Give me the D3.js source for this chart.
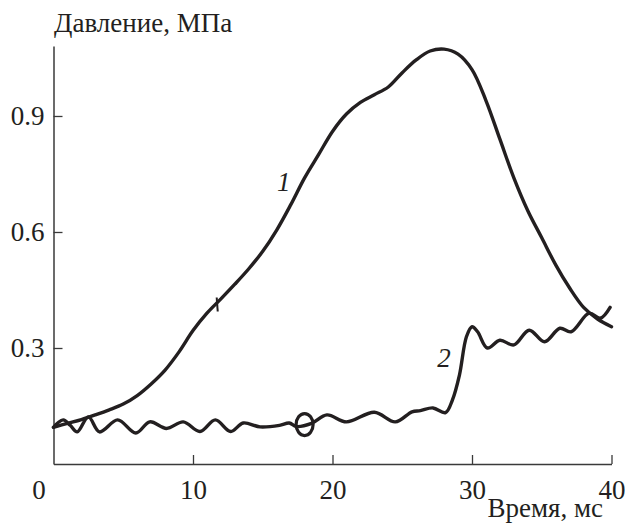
<!DOCTYPE html>
<html>
<head>
<meta charset="utf-8">
<script src="https://cdn.jsdelivr.net/npm/d3@7"></script>
<style>
  #chart text { font-family: "Liberation Serif", "Times New Roman", Tinos, serif !important; }
</style>
</head>
<body style="margin:0">
<svg id="chart" width="625" height="525">
  <style>text { font-family: "Liberation Serif", "Times New Roman", Tinos, serif; }</style>
</svg>
<script>
// ---- data ----
const xTicks = [0, 10, 20, 30, 40];
const yTicks = [0.3, 0.6, 0.9];
const yTitle = "Давление, МПа";
const xTitle = "Время, мс";

// curve 1 (time ms, pressure MPa)
const t1 = [0, 1, 2, 3, 4, 5, 6, 7, 8, 9, 10, 11, 12, 13, 14, 15, 16, 17, 18, 19, 20, 21, 22, 23, 24, 25, 26, 27, 28, 29, 30, 31, 32, 33, 34, 35, 36, 37, 38, 39, 40];
const p1 = [0.095, 0.105, 0.115, 0.127, 0.14, 0.155, 0.177, 0.207, 0.243, 0.29, 0.345, 0.39, 0.427, 0.465, 0.505, 0.55, 0.605, 0.67, 0.74, 0.80, 0.86, 0.905, 0.935, 0.955, 0.975, 1.012, 1.045, 1.068, 1.073, 1.06, 1.02, 0.94, 0.84, 0.74, 0.655, 0.585, 0.515, 0.455, 0.405, 0.375, 0.355];

// curve 2
const t2 = [0, 0.3, 0.7, 1.2, 1.7, 2.5, 3.3, 4.6, 5.9, 6.9, 8.1, 9.3, 10.5, 11.6, 12.7, 13.6, 14.8, 16.2, 16.9, 17.4, 18.5, 19.6, 21.0, 23.0, 24.5, 25.7, 26.3, 27.2, 28.1, 28.6, 29.1, 29.6, 30.0, 30.4, 31.1, 32.0, 33.0, 34.1, 35.2, 36.3, 37.1, 38.4, 39.2, 39.9];
const p2 = [0.095, 0.106, 0.114, 0.10, 0.083, 0.122, 0.083, 0.114, 0.080, 0.109, 0.092, 0.109, 0.084, 0.114, 0.084, 0.106, 0.096, 0.100, 0.106, 0.097, 0.105, 0.127, 0.109, 0.134, 0.109, 0.135, 0.138, 0.145, 0.133, 0.166, 0.23, 0.329, 0.355, 0.342, 0.30, 0.32, 0.308, 0.346, 0.316, 0.351, 0.342, 0.39, 0.377, 0.405];

// curve labels and marks
const curveLabels = [{ text: "1", t: 16.5, p: 0.73 }, { text: "2", t: 28.0, p: 0.275 }];
const notchMark = { t: 11.7, p: 0.415 };  // small notch on curve 1
const ringMark = { t: 18.0, p: 0.102 };   // small ring on curve 2

// ---- layout ----
const FONT = "Liberation Serif, Times New Roman, Tinos, serif";
const FS = 27;
const svg = d3.select("#chart");
const x = d3.scaleLinear().domain([0, 40]).range([53.5, 611.5]);
const y = d3.scaleLinear().domain([0, 1.081]).range([464, 46]);
const ink = "#231f20";
const axisInk = "#3a3a3a";

// x axis
const xAxis = svg.append("g")
  .attr("transform", `translate(0,${y(0)})`)
  .call(d3.axisBottom(x).tickValues(xTicks).tickSizeInner(-9).tickSizeOuter(0).tickPadding(18).tickFormat(d3.format("d")));
xAxis.attr("font-family", FONT).attr("font-size", FS);
xAxis.select(".domain").attr("stroke", axisInk).attr("stroke-width", 1.5);
xAxis.selectAll(".tick line").attr("stroke", axisInk).attr("stroke-width", 1.3);
xAxis.selectAll(".tick text").attr("fill", ink).attr("dy", "0.62em").attr("font-family", FONT);
xAxis.selectAll(".tick").filter(d => d === 0).select("line").remove();
xAxis.selectAll(".tick").filter(d => d === 0).select("text").attr("dx", -15);

// y axis
const yAxis = svg.append("g")
  .attr("transform", `translate(${x(0)},0)`)
  .call(d3.axisLeft(y).tickValues(yTicks).tickSizeInner(-9).tickSizeOuter(0).tickPadding(9).tickFormat(d3.format(".1f")));
yAxis.attr("font-family", FONT).attr("font-size", FS);
yAxis.select(".domain").attr("stroke", axisInk).attr("stroke-width", 1.5);
yAxis.selectAll(".tick line").attr("stroke", axisInk).attr("stroke-width", 1.3);
yAxis.selectAll(".tick text").attr("fill", ink).attr("dy", "0.33em").attr("font-family", FONT);

// titles
svg.append("text").attr("x", 54).attr("y", 32).attr("font-size", FS)
  .attr("font-family", FONT).attr("fill", ink).text(yTitle);
svg.append("text").attr("x", 603).attr("y", 517).attr("text-anchor", "end").attr("font-size", FS)
  .attr("font-family", FONT).attr("fill", ink).text(xTitle);

// curves
const line = d3.line().x(d => x(d[0])).y(d => y(d[1])).curve(d3.curveCatmullRom.alpha(0.5));
const c1 = t1.map((t, i) => [t, p1[i]]);
const c2 = t2.map((t, i) => [t, p2[i]]);
[c1, c2].forEach(c => {
  svg.append("path").datum(c).attr("d", line)
    .attr("fill", "none").attr("stroke", ink).attr("stroke-width", 3.4)
    .attr("stroke-linejoin", "round").attr("stroke-linecap", "round");
});

// notch on curve 1
svg.append("line")
  .attr("x1", x(notchMark.t)).attr("y1", y(notchMark.p) - 6)
  .attr("x2", x(notchMark.t) + 1).attr("y2", y(notchMark.p) + 8)
  .attr("stroke", ink).attr("stroke-width", 2);

// ring on curve 2
svg.append("ellipse")
  .attr("cx", x(ringMark.t)).attr("cy", y(ringMark.p))
  .attr("rx", 8.5).attr("ry", 11)
  .attr("fill", "none").attr("stroke", ink).attr("stroke-width", 3.2);

// curve labels
svg.selectAll(".clabel").data(curveLabels).enter().append("text")
  .attr("class", "clabel")
  .attr("x", d => x(d.t)).attr("y", d => y(d.p))
  .attr("text-anchor", "middle").attr("dominant-baseline", "central")
  .attr("font-size", FS).attr("font-style", "italic")
  .attr("font-family", FONT).attr("fill", ink)
  .text(d => d.text);
</script>
</body>
</html>
